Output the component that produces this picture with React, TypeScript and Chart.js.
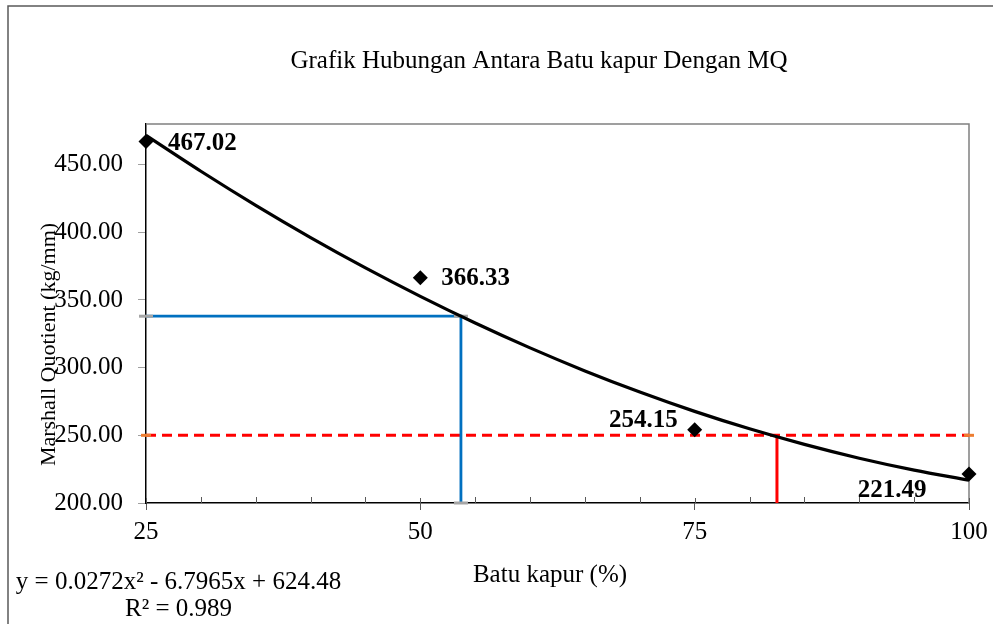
import React, { useEffect, useRef } from "react";
import { Chart, registerables } from "chart.js";

Chart.register(...registerables);

const FONT = "'Liberation Serif', 'Times New Roman', serif";

const chartTitle = "Grafik Hubungan Antara Batu kapur Dengan MQ";
const xAxisTitle = "Batu kapur (%)";
const yAxisTitle = "Marshall Quotient (kg/mm)";
const equationLines = ["y = 0.0272x² - 6.7965x + 624.48", "R² = 0.989"];

// Observed data
const batuKapur = [25, 50, 75, 100];
const marshallQuotient = [467.02, 366.33, 254.15, 221.49];

// Polynomial trendline
const trendX = [25, 30, 35, 40, 45, 50, 55, 60, 65, 70, 75, 80, 85, 90, 95, 100];
const trendY = [471.6, 445.1, 419.9, 396.1, 373.7, 352.7, 333.0, 314.6, 297.6, 282.0, 267.7, 254.8, 243.3, 233.1, 224.3, 216.8];

// Helper guide lines
const blueGuideX = [25, 53.7, 53.7];
const blueGuideY = [338, 338, 200];
const redDashX = [25, 100];
const redDashY = [250, 250];
const redVertX = [82.5, 82.5];
const redVertY = [250, 200];

// Axes
const xMajorTicks = [25, 50, 75, 100];
const xMinorTicks = [30, 35, 40, 45, 55, 60, 65, 70, 80, 85, 90, 95];
const yTicks = [200, 250, 300, 350, 400, 450];
const xMin = 25;
const xMax = 100;
const yMin = 200;
const yMax = 480;

const pts = (xs: number[], ys: number[]) => xs.map((x, i) => ({ x, y: ys[i] }));

const labelPlacement = [
  { dx: 22, dy: 2, align: "left" },
  { dx: 21, dy: 1, align: "left" },
  { dx: -17, dy: -9, align: "right" },
  { dx: -77, dy: 17, align: "center" },
];

const decorPlugin = {
  id: "decor",
  beforeDraw(chart: any) {
    const ctx = chart.ctx;
    ctx.save();
    ctx.fillStyle = "#ffffff";
    ctx.fillRect(0, 0, chart.width, chart.height);
    ctx.strokeStyle = "#595959";
    ctx.lineWidth = 1.5;
    ctx.beginPath();
    ctx.moveTo(8, chart.height);
    ctx.lineTo(8, 6);
    ctx.lineTo(chart.width, 6);
    ctx.stroke();
    ctx.restore();
  },
  beforeDatasetsDraw(chart: any) {
    const ctx = chart.ctx;
    const a = chart.chartArea;
    const xs = chart.scales.x;
    ctx.save();
    ctx.strokeStyle = "#808080";
    ctx.lineWidth = 1.5;
    ctx.beginPath();
    ctx.moveTo(a.left, a.top);
    ctx.lineTo(a.right, a.top);
    ctx.lineTo(a.right, a.bottom);
    ctx.stroke();
    // minor ticks (inside) and upper half of major ticks
    ctx.strokeStyle = "#595959";
    ctx.lineWidth = 1;
    ctx.beginPath();
    for (const v of xMinorTicks) {
      const px = Math.round(xs.getPixelForValue(v)) + 0.5;
      ctx.moveTo(px, a.bottom - 6);
      ctx.lineTo(px, a.bottom);
    }
    for (const v of xMajorTicks) {
      const px = Math.round(xs.getPixelForValue(v)) + 0.5;
      ctx.moveTo(px, a.bottom - 5);
      ctx.lineTo(px, a.bottom);
    }
    ctx.stroke();
    ctx.restore();
  },
  afterDraw(chart: any) {
    const ctx = chart.ctx;
    const a = chart.chartArea;
    const xs = chart.scales.x;
    const ys = chart.scales.y;
    ctx.save();
    ctx.fillStyle = "#000000";
    // data labels
    ctx.font = `bold 25px ${FONT}`;
    ctx.textBaseline = "middle";
    batuKapur.forEach((x, i) => {
      const v = marshallQuotient[i];
      const p = labelPlacement[i];
      ctx.textAlign = p.align;
      ctx.fillText(v.toFixed(2), xs.getPixelForValue(x) + p.dx, ys.getPixelForValue(v) + p.dy);
    });
    // chart title
    ctx.font = `25px ${FONT}`;
    ctx.textAlign = "center";
    ctx.textBaseline = "alphabetic";
    ctx.fillText(chartTitle, 539, 68);
    // x axis title
    ctx.fillText(xAxisTitle, 550, 582);
    // equation
    ctx.fillText(equationLines[0], 178.5, 589);
    ctx.fillText(equationLines[1], 178.5, 616);
    // y axis title
    ctx.font = `22px ${FONT}`;
    ctx.translate(55, (a.top + a.bottom) / 2 + 31);
    ctx.rotate(-Math.PI / 2);
    ctx.textAlign = "center";
    ctx.fillText(yAxisTitle, 0, 0);
    ctx.restore();
  },
};

export default function App() {
  const canvasRef = useRef<HTMLCanvasElement | null>(null);

  useEffect(() => {
    const canvas = canvasRef.current;
    if (!canvas) return;
    const chart = new Chart(canvas, {
      type: "scatter",
      data: {
        datasets: [
          {
            label: "Data",
            data: pts(batuKapur, marshallQuotient),
            showLine: false,
            pointStyle: "rectRot",
            pointRadius: 7.5,
            pointBackgroundColor: "#000000",
            pointBorderColor: "#000000",
            pointBorderWidth: 0,
            clip: false,
            order: 0,
          },
          {
            label: "Trend",
            data: pts(trendX, trendY),
            showLine: true,
            borderColor: "#000000",
            borderWidth: 3.2,
            pointRadius: 0,
            cubicInterpolationMode: "monotone",
            clip: false,
            order: 1,
          },
          {
            label: "Blue guide",
            data: pts(blueGuideX, blueGuideY),
            showLine: true,
            borderColor: "#0070C0",
            borderWidth: 2.8,
            pointStyle: "line",
            pointRadius: 7,
            pointBorderWidth: 3,
            pointBorderColor: "#A5A5A5",
            pointBackgroundColor: "#A5A5A5",
            clip: false,
            order: 3,
          },
          {
            label: "Red dashed",
            data: pts(redDashX, redDashY),
            showLine: true,
            borderColor: "#FF0000",
            borderWidth: 3,
            borderDash: [10, 6],
            pointStyle: "line",
            pointRadius: 5,
            pointBorderWidth: 3,
            pointBorderColor: "#ED7D31",
            pointBackgroundColor: "#ED7D31",
            clip: false,
            order: 4,
          },
          {
            label: "Red vertical",
            data: pts(redVertX, redVertY),
            showLine: true,
            borderColor: "#FF0000",
            borderWidth: 3,
            pointRadius: 0,
            clip: false,
            order: 2,
          },
        ],
      },
      options: {
        animation: false,
        responsive: false,
        devicePixelRatio: 1,
        layout: { padding: { left: 0, top: 124, right: 24, bottom: 61 } },
        plugins: {
          legend: { display: false },
          tooltip: { enabled: false },
          title: { display: false },
        },
        scales: {
          x: {
            type: "linear",
            min: xMin,
            max: xMax,
            afterBuildTicks: (s: any) => {
              s.ticks = xMajorTicks.map((v) => ({ value: v }));
            },
            afterFit: (s: any) => {
              s.height = 60;
              s.paddingLeft = 0;
              s.paddingRight = 0;
            },
            grid: {
              drawOnChartArea: false,
              drawTicks: true,
              tickLength: 7,
              tickColor: "#595959",
              tickWidth: 1,
            },
            border: { display: true, color: "#000000", width: 1.5 },
            ticks: {
              color: "#000000",
              font: { family: FONT, size: 25 },
              padding: 7,
              maxRotation: 0,
              callback: (v: any) => String(v),
            },
          },
          y: {
            type: "linear",
            min: yMin,
            max: yMax,
            afterBuildTicks: (s: any) => {
              s.ticks = yTicks.map((v) => ({ value: v }));
            },
            afterFit: (s: any) => {
              s.width = 146;
              s.paddingTop = 0;
              s.paddingBottom = 0;
            },
            grid: {
              drawOnChartArea: false,
              drawTicks: true,
              tickLength: 8,
              tickColor: "#A0A0A0",
              tickWidth: 1,
            },
            border: { display: true, color: "#000000", width: 1.5 },
            ticks: {
              color: "#000000",
              font: { family: FONT, size: 25 },
              padding: 15,
              callback: (v: any) => Number(v).toFixed(2),
            },
          },
        },
      },
      plugins: [decorPlugin],
    } as any);
    return () => chart.destroy();
  }, []);

  return (
    <div style={{ position: "fixed", left: 0, top: 0, width: 993, height: 624, background: "#fff" }}>
      <canvas ref={canvasRef} width={993} height={624} style={{ display: "block" }} />
    </div>
  );
}
